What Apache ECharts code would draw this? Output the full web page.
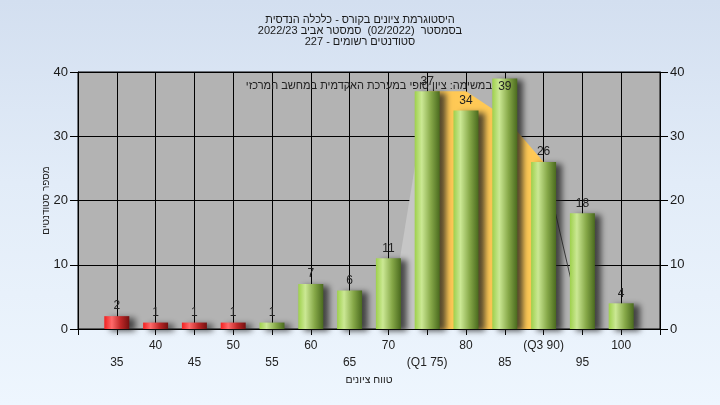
<!DOCTYPE html>
<html><head><meta charset="utf-8">
<script src="https://cdn.jsdelivr.net/npm/echarts@6/dist/echarts.min.js"></script>
<style>
html,body{margin:0;padding:0;}
#c{width:720px;height:405px;background:linear-gradient(180deg,#d3dff0 0%,#e2ecf8 45%,#eef6fe 100%);}
</style></head>
<body><div id="c"></div>
<script>
// ---- data ----
const scores = [35, 40, 45, 50, 55, 60, 65, 70, 75, 80, 85, 90, 95, 100];
const counts = [2, 1, 1, 1, 1, 7, 6, 11, 37, 34, 39, 26, 18, 4];
const passScore = 55;
const q1Score = 75;
const q3Score = 90;
const curveX = [70, 75, 80, 85, 90, 95];
const curveY = [0, 37, 37, 33, 26, 0];
const yTicks = [0, 10, 20, 30, 40];
const titleLines = ['היסטוגרמת ציונים בקורס - כלכלה הנדסית', 'בסמסטר  (02/2022)  סמסטר אביב 2022/23', 'סטודנטים רשומים - 227'];
const noteText = 'במשימה: ציון סופי במערכת האקדמית במחשב המרכזי';
const xName = 'טווח ציונים';
const yName = 'מספר סטודנטים';

const FONT = '"Liberation Sans Narrow", "Liberation Sans", "DejaVu Sans", sans-serif';
const yMax = yTicks[yTicks.length-1];

const greenGrad = {type:'linear',x:0,y:0,x2:1,y2:0,colorStops:[
  {offset:0,color:'#9ed04c'},{offset:0.28,color:'#cbe894'},{offset:0.65,color:'#86a848'},{offset:1,color:'#4a6a1e'}]};
const redGrad = {type:'linear',x:0,y:0,x2:1,y2:0,colorStops:[
  {offset:0,color:'#f22020'},{offset:0.3,color:'#ff6a6a'},{offset:0.65,color:'#c02828'},{offset:1,color:'#741010'}]};

const barData = scores.map((s,i)=>{
  const d = {value:[s,counts[i]], itemStyle:{color: s < passScore ? redGrad : greenGrad}};
  if (counts[i] > yMax - 2) d.label = {position:'insideTop', distance:2};
  return d;
});

// curve segments
const leftPart = [], midPart = [], rightPart = [];
curveX.forEach((x,i)=>{
  if (x <= q1Score) leftPart.push([x,curveY[i]]);
  if (x >= q1Score && x <= q3Score) midPart.push([x,curveY[i]]);
  if (x >= q3Score) rightPart.push([x,curveY[i]]);
});

function xLabel(v){
  if (v < scores[0] || v > scores[scores.length-1]) return '';
  let t = String(v);
  if (v === q1Score) t = '(Q1 ' + v + ')';
  if (v === q3Score) t = '(Q3 ' + v + ')';
  return ((v - scores[0]) / 5) % 2 === 0 ? '\n' + t : t;
}

const chart = echarts.init(document.getElementById('c'), null, {renderer:'canvas'});
const yAxisCommon = {
  type:'value', min:yTicks[0], max:yMax, interval:10,
  axisLine:{show:true,lineStyle:{color:'#000',width:1}},
  axisTick:{show:true,length:8,lineStyle:{color:'#000'}},
  axisLabel:{color:'#1a1a1a',fontSize:13,fontFamily:FONT,margin:10},
};
chart.setOption({
  animation:false,
  title:{
    text: titleLines.join('\n'), left:'center', top:9,
    textStyle:{fontSize:11,fontWeight:'normal',color:'#1a1a1a',fontFamily:FONT,lineHeight:11}
  },
  grid:{left:78,right:60,top:72,bottom:76,show:true,backgroundColor:'#b3b3b3',borderColor:'#000',borderWidth:1},
  xAxis:{
    type:'value', min:30, max:105, interval:5,
    name:xName, nameLocation:'middle', nameGap:46, nameMoveOverlap:false,
    nameTextStyle:{color:'#222',fontSize:10.5,fontFamily:FONT},
    axisLine:{show:true,onZero:false,lineStyle:{color:'#000'}},
    axisTick:{show:true,length:6,lineStyle:{color:'#000'}},
    axisLabel:{color:'#222',fontSize:12,fontFamily:FONT,margin:8,lineHeight:17,formatter:xLabel,showMinLabel:true,showMaxLabel:true},
    splitLine:{show:true,lineStyle:{color:'#000',width:1}}
  },
  yAxis:[
    Object.assign({}, yAxisCommon, {
      position:'left',
      name:yName, nameLocation:'middle', nameGap:27, nameRotate:90, nameMoveOverlap:false,
      nameTextStyle:{color:'#222',fontSize:10,fontFamily:FONT},
      splitLine:{show:true,lineStyle:{color:'#000',width:1}}
    }),
    Object.assign({}, yAxisCommon, {position:'right', splitLine:{show:false}})
  ],
  graphic:[{
    type:'text', right:720-492, top:80, z:50,
    style:{text:noteText, fill:'#222', font:'11px ' + FONT, textAlign:'right'}
  }],
  series:[
    {type:'line', data:leftPart, symbol:'none', z:1, lineStyle:{width:0}, areaStyle:{color:'#c6c6c6',opacity:1}},
    {type:'line', data:midPart, symbol:'none', z:1, lineStyle:{width:0}, areaStyle:{color:'#ffc955',opacity:1}},
    {type:'line', data:rightPart, symbol:'none', z:1, lineStyle:{width:1,color:'#3a3a3a'}},
    {type:'bar', data:barData, barWidth:25, z:3,
      itemStyle:{shadowColor:'rgba(30,30,30,0.75)',shadowBlur:6,shadowOffsetX:6,shadowOffsetY:2},
      label:{show:true,position:'top',distance:4,color:'#222',fontSize:12,fontFamily:FONT,
        formatter:p=>p.value[1]}
    }
  ]
});
</script></body></html>
